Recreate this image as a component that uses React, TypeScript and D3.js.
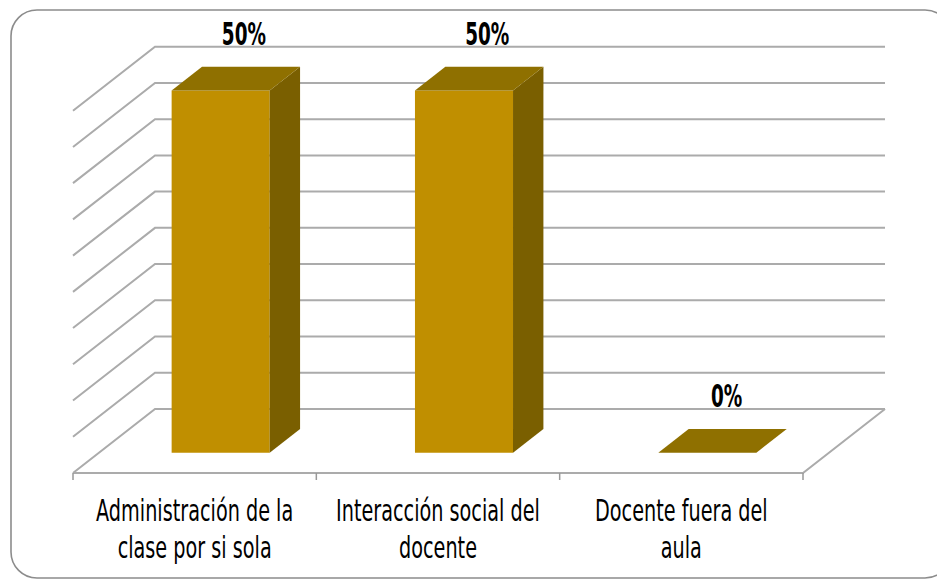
import React from "react";
import * as d3 from "d3";

const categoryLines: string[][] = [
  ["Administración de la", "clase por si sola"],
  ["Interacción social del", "docente"],
  ["Docente fuera del", "aula"],
];
const categories = categoryLines.map((l) => l.join(" "));
const values = [0.5, 0.5, 0];
const valueLabels = ["50%", "50%", "0%"];
const yMax = 0.5;
const tickCount = 10;

const W = 937;
const H = 580;
const LEFT = 73;
const RIGHT = 803;
const FLOOR_Y = 473;
const DEPTH_DX = 82;
const DEPTH_DY = 64;
const WALL_H = 362.3;
const BAR_FRAC = 0.403;
const D0 = 0.317;
const D1 = 0.6875;

const FRONT = "#C08F00";
const TOP = "#8F7000";
const SIDE = "#7A5F00";
const GRID = "#ababab";

const CAT_FONT = "'DejaVu Sans Condensed', 'Liberation Sans Narrow', sans-serif";

export default function App() {
  const x = d3.scaleBand<string>().domain(categories).range([LEFT, RIGHT]).padding(0);
  const y = d3.scaleLinear().domain([0, yMax]).range([0, WALL_H]);
  const ticks = y.ticks(tickCount);

  const P = (px: number, v: number, d: number): [number, number] => [
    px + DEPTH_DX * d,
    FLOOR_Y - DEPTH_DY * d - y(v),
  ];
  const poly = (pts: [number, number][]) => pts.map((p) => p.join(",")).join(" ");
  const line = d3.line();

  const bw = x.bandwidth() * BAR_FRAC;
  const edges = [...categories.map((c) => x(c) as number), RIGHT];

  return (
    <svg
      width={W}
      height={H}
      style={{ position: "absolute", left: 0, top: 0, background: "#fff" }}
    >
      <rect x={11} y={10} width={940} height={568} rx={26} ry={26} fill="#fff" stroke="#8c8c8c" strokeWidth={1.6} />

      {ticks.map((t, i) => (
        <path
          key={"g" + i}
          d={line([P(LEFT, t, 0), P(LEFT, t, 1), P(RIGHT, t, 1)]) as string}
          fill="none"
          stroke={GRID}
          strokeWidth={2}
        />
      ))}
      <path d={line([P(RIGHT, 0, 1), P(RIGHT, 0, 0), P(LEFT, 0, 0)]) as string} fill="none" stroke={GRID} strokeWidth={2} />
      {edges.map((ex, i) => (
        <line key={"t" + i} x1={ex} x2={ex} y1={FLOOR_Y} y2={FLOOR_Y + 7} stroke="#999" strokeWidth={1.5} />
      ))}

      {categories.map((c, i) => {
        const v = values[i];
        const cx = (x(c) as number) + x.bandwidth() / 2;
        const x0 = cx - bw / 2;
        const x1 = cx + bw / 2;
        const top = poly([P(x0, v, D0), P(x1, v, D0), P(x1, v, D1), P(x0, v, D1)]);
        if (v === 0) {
          return <polygon key={"b" + i} points={top} fill={TOP} />;
        }
        const front = poly([P(x0, 0, D0), P(x1, 0, D0), P(x1, v, D0), P(x0, v, D0)]);
        const side = poly([P(x1, 0, D0), P(x1, v, D0), P(x1, v, D1), P(x1, 0, D1)]);
        return (
          <g key={"b" + i}>
            <polygon points={front} fill={FRONT} />
            <polygon points={side} fill={SIDE} />
            <polygon points={top} fill={TOP} />
          </g>
        );
      })}

      {categories.map((c, i) => {
        const cx = (x(c) as number) + x.bandwidth() / 2;
        const lx = P(cx, values[i], 0.6)[0] - (values[i] === 0 ? 4 : 0);
        return (
          <g key={"v" + i} transform={`translate(${lx},${P(cx, values[i], D1)[1] - 22}) scale(0.64,1)`}>
            <text textAnchor="middle" fontFamily={CAT_FONT} fontWeight="bold" fontSize={32} fill="#000">
              {valueLabels[i]}
            </text>
          </g>
        );
      })}

      {categories.map((c, i) => {
        const cx = (x(c) as number) + x.bandwidth() / 2;
        return categoryLines[i].map((ln, j) => (
          <g key={"c" + i + j} transform={`translate(${cx},${521 + j * 36.5}) scale(0.69,1)`}>
            <text textAnchor="middle" fontFamily={CAT_FONT} fontSize={31} fill="#000">
              {ln}
            </text>
          </g>
        ));
      })}
    </svg>
  );
}
